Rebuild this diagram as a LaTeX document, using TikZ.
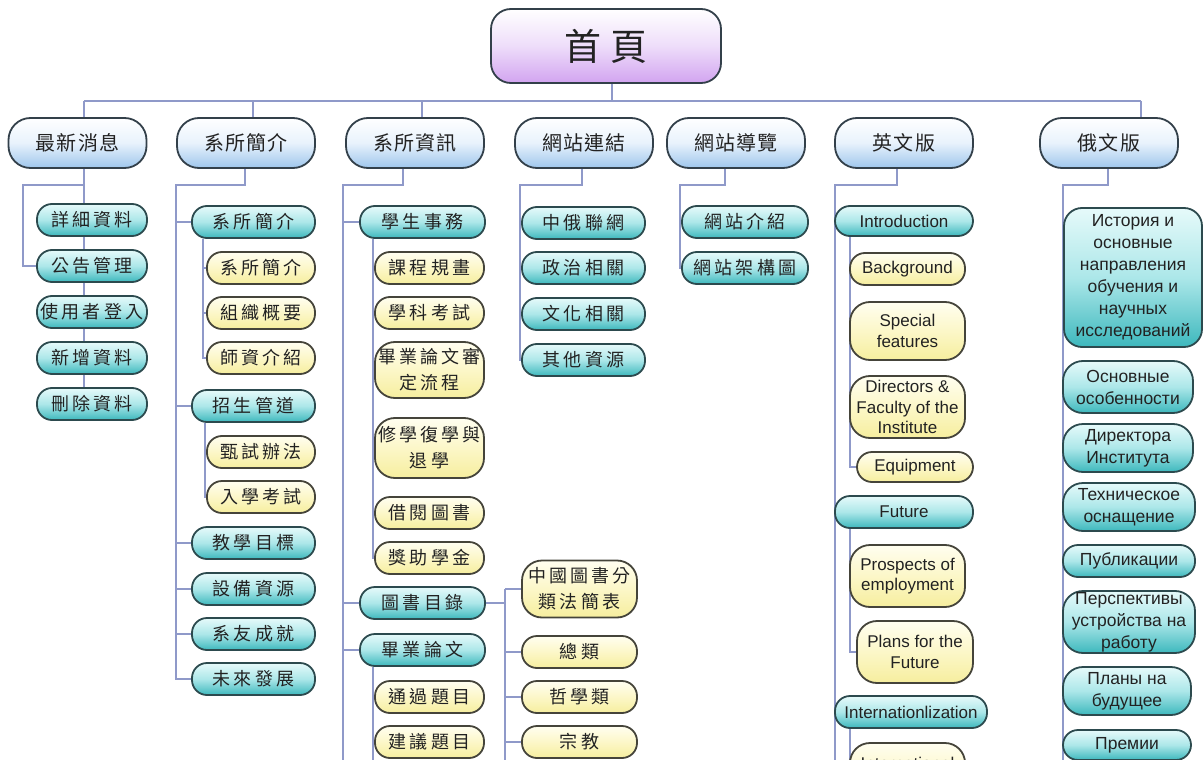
\documentclass[tikz,border=0pt]{standalone}
\usepackage{fontspec}
\setmainfont{Liberation Sans}
\newfontfamily\cjkroot[LetterSpace=25]{Noto Sans CJK TC}
\newfontfamily\cjkhead[LetterSpace=6]{Noto Sans CJK TC}
\newfontfamily\cjkbody[LetterSpace=18]{Noto Sans CJK TC}
\usetikzlibrary{backgrounds}
\definecolor{linec}{HTML}{8F99C9}
\definecolor{bordc}{HTML}{33404A}
\definecolor{tealbord}{HTML}{2C4A4E}
\definecolor{yelbord}{HTML}{45443A}
\definecolor{textc}{HTML}{222222}
\definecolor{rootmid}{HTML}{EEDDFA}
\definecolor{rootbot}{HTML}{D2A4F0}
\definecolor{headmid}{HTML}{E8F2FC}
\definecolor{headbot}{HTML}{9EC6EC}
\definecolor{tealtop}{HTML}{E6FAFA}
\definecolor{tealmid}{HTML}{ACE7E9}
\definecolor{tealbot}{HTML}{3DB8BD}
\definecolor{yeltop}{HTML}{FFFEF0}
\definecolor{yelmid}{HTML}{FCF7C8}
\definecolor{yelbot}{HTML}{F6EE9E}
\tikzset{
  conn/.style={draw=linec, line width=1.3pt},
  box/.style={rectangle, rounded corners=15pt, line width=1.8pt, align=center, inner sep=0pt, text=textc},
  rootbox/.style={box, draw=bordc, top color=white, bottom color=rootbot, middle color=rootmid,
    minimum width=230pt, minimum height=74pt, rounded corners=20pt,
    font=\cjkroot\fontsize{37pt}{40pt}\selectfont},
  headbox/.style={box, draw=bordc, top color=white, bottom color=headbot, middle color=headmid,
    minimum width=138pt, minimum height=50pt, rounded corners=22pt,
    font=\cjkhead\fontsize{20pt}{22pt}\selectfont},
  tbox/.style={box, draw=tealbord, top color=tealtop, bottom color=tealbot, middle color=tealmid, minimum height=32pt},
  ybox/.style={box, draw=yelbord, top color=yeltop, bottom color=yelbot, middle color=yelmid, minimum height=32pt},
  zh/.style={font=\cjkbody\fontsize{18pt}{26pt}\selectfont},
  en/.style={font=\fontsize{17pt}{20.5pt}\selectfont},
  ru/.style={font=\fontsize{17.5pt}{22pt}\selectfont},
}
\begin{document}
\begin{tikzpicture}[x=1pt,y=-1pt]
\useasboundingbox (0,0) rectangle (1203,760);

% root and heads
\node[rootbox] (root) at (606,46) {首頁};
\node[headbox] (c1) at (77.5,143) {最新消息};
\node[headbox] (c2) at (246,143) {系所簡介};
\node[headbox] (c3) at (415,143) {系所資訊};
\node[headbox] (c4) at (584,143) {網站連結};
\node[headbox] (c5) at (736,143) {網站導覽};
\node[headbox] (c6) at (904,143) {英文版};
\node[headbox] (c7) at (1109,143) {俄文版};

% column 1
\node[tbox,zh,minimum width=110pt] (a1) at (92,220) {詳細資料};
\node[tbox,zh,minimum width=110pt] (a2) at (92,266) {公告管理};
\node[tbox,zh,minimum width=110pt] (a3) at (92,312) {使用者登入};
\node[tbox,zh,minimum width=110pt] (a4) at (92,358) {新增資料};
\node[tbox,zh,minimum width=110pt] (a5) at (92,404) {刪除資料};

% column 2
\node[tbox,zh,minimum width=123pt] (b1) at (253.5,222) {系所簡介};
\node[ybox,zh,minimum width=108pt] (b11) at (261,268) {系所簡介};
\node[ybox,zh,minimum width=108pt] (b12) at (261,313) {組織概要};
\node[ybox,zh,minimum width=108pt] (b13) at (261,358) {師資介紹};
\node[tbox,zh,minimum width=123pt] (b2) at (253.5,406) {招生管道};
\node[ybox,zh,minimum width=108pt] (b21) at (261,452) {甄試辦法};
\node[ybox,zh,minimum width=108pt] (b22) at (261,497) {入學考試};
\node[tbox,zh,minimum width=123pt] (b3) at (253.5,543) {教學目標};
\node[tbox,zh,minimum width=123pt] (b4) at (253.5,589) {設備資源};
\node[tbox,zh,minimum width=123pt] (b5) at (253.5,634) {系友成就};
\node[tbox,zh,minimum width=123pt] (b6) at (253.5,679) {未來發展};

% column 3
\node[tbox,zh,minimum width=125pt] (d1) at (422.5,222) {學生事務};
\node[ybox,zh,minimum width=109pt] (d11) at (429.5,268) {課程規畫};
\node[ybox,zh,minimum width=109pt] (d12) at (429.5,313) {學科考試};
\node[ybox,zh,minimum width=109pt,minimum height=56pt,rounded corners=20pt] (d13) at (429.5,370) {畢業論文審\\定流程};
\node[ybox,zh,minimum width=109pt,minimum height=60pt,rounded corners=20pt] (d14) at (429.5,448) {修學復學與\\退學};
\node[ybox,zh,minimum width=109pt] (d15) at (429.5,513) {借閱圖書};
\node[ybox,zh,minimum width=109pt] (d16) at (429.5,558) {獎助學金};
\node[tbox,zh,minimum width=125pt] (d2) at (422.5,603) {圖書目錄};
\node[tbox,zh,minimum width=125pt] (d3) at (422.5,650) {畢業論文};
\node[ybox,zh,minimum width=109pt] (d31) at (429.5,697) {通過題目};
\node[ybox,zh,minimum width=109pt] (d32) at (429.5,742) {建議題目};
\node[ybox,zh,minimum width=115pt,minimum height=57pt,rounded corners=20pt] (e1) at (579.5,589) {中國圖書分\\類法簡表};
\node[ybox,zh,minimum width=115pt] (e2) at (579.5,652) {總類};
\node[ybox,zh,minimum width=115pt] (e3) at (579.5,697) {哲學類};
\node[ybox,zh,minimum width=115pt] (e4) at (579.5,742) {宗教};

% column 4
\node[tbox,zh,minimum width=123pt] (f1) at (583.5,223) {中俄聯網};
\node[tbox,zh,minimum width=123pt] (f2) at (583.5,268) {政治相關};
\node[tbox,zh,minimum width=123pt] (f3) at (583.5,314) {文化相關};
\node[tbox,zh,minimum width=123pt] (f4) at (583.5,360) {其他資源};

% column 5
\node[tbox,zh,minimum width=126pt] (g1) at (745,222) {網站介紹};
\node[tbox,zh,minimum width=126pt] (g2) at (745,268) {網站架構圖};

% column 6
\node[tbox,en,minimum width=138pt,minimum height=30pt] (h1) at (904,221) {Introduction};
\node[ybox,en,minimum width=115pt] (h11) at (907.5,269) {Background};
\node[ybox,en,minimum width=115pt,minimum height=58pt,rounded corners=20pt] (h12) at (907.5,331) {Special\\features};
\node[ybox,en,minimum width=115pt,minimum height=62pt,rounded corners=20pt] (h13) at (907.5,407) {Directors \&\\Faculty of the\\Institute};
\node[ybox,en,minimum width=116pt,minimum height=30pt] (h14) at (915,467) {Equipment};
\node[tbox,en,minimum width=138pt] (h2) at (904,512) {Future};
\node[ybox,en,minimum width=115pt,minimum height=62pt,rounded corners=20pt] (h21) at (907.5,576) {Prospects of\\employment};
\node[ybox,en,minimum width=116pt,minimum height=62pt,rounded corners=20pt] (h22) at (915,652) {Plans for the\\Future};
\node[tbox,en,minimum width=152pt] (h3) at (911,712) {Internationlization};
\node[ybox,en,minimum width=115pt,minimum height=62pt,rounded corners=20pt] (h31) at (907.5,774) {International\\\phantom{International}};

% column 7
\node[tbox,ru,minimum width=138pt,minimum height=139pt,rounded corners=18pt] (i1) at (1133,277.5) {История и\\основные\\направления\\обучения и\\научных\\исследований};
\node[tbox,ru,minimum width=130pt,minimum height=52pt,rounded corners=20pt] (i2) at (1128,387) {Основные\\особенности};
\node[tbox,ru,minimum width=130pt,minimum height=48pt,rounded corners=20pt] (i3) at (1128,448) {Директора\\Института};
\node[tbox,ru,minimum width=132pt,minimum height=48pt,rounded corners=20pt] (i4) at (1129,507) {Техническое\\оснащение};
\node[tbox,ru,minimum width=132pt] (i5) at (1129,561) {Публикации};
\node[tbox,ru,minimum width=132pt,minimum height=62pt,rounded corners=20pt] (i6) at (1129,622) {Перспективы\\устройства на\\работу};
\node[tbox,ru,minimum width=128pt,minimum height=48pt,rounded corners=20pt] (i7) at (1127,691) {Планы на\\будущее};
\node[tbox,ru,minimum width=128pt,minimum height=30pt] (i8) at (1127,745) {Премии};

% coordinates
\coordinate (busL) at (84,101);
\coordinate (busR) at (1141,101);
\coordinate (busM) at (612,101);
\coordinate (bus3) at (422,101);
\coordinate (bus2) at (253,101);
\coordinate (k1) at (84,185);   \coordinate (v1) at (23,185);
\coordinate (k2) at (245,185);  \coordinate (v2) at (176,185);
\coordinate (k3) at (403,185);  \coordinate (v3) at (343,185);
\coordinate (k4) at (582,185);  \coordinate (v4) at (520,185);
\coordinate (k5) at (725,185);  \coordinate (v5) at (680,185);
\coordinate (k6) at (897,185);  \coordinate (v6) at (835,185);
\coordinate (k7) at (1108,185); \coordinate (v7) at (1063,185);
\coordinate (w21) at (203,0);
\coordinate (w22) at (205,0);
\coordinate (w31) at (373,0);
\coordinate (w32) at (505,0);
\coordinate (w61) at (850,0);
\coordinate (bot3) at (343,760);
\coordinate (bot31) at (373,760);
\coordinate (bot32) at (505,760);
\coordinate (bot6) at (835,760);
\coordinate (bot61) at (850,760);
\coordinate (bot7) at (1063,760);

\begin{pgfonlayer}{background}
\fill[white] (0,0) rectangle (1203,760);
% bus
\draw[conn] (busL) -- (busR);
\draw[conn] (root.south -| busM) -- (busM);
\draw[conn] (busL) -- (c1.north -| busL);
\draw[conn] (bus2) -- (c2.north -| bus2);
\draw[conn] (bus3) -- (c3.north -| bus3);
\draw[conn] (busR) -- (c7.north -| busR);
% column 1
\draw[conn] (c1.south -| k1) -- (a5.center -| k1);
\draw[conn] (k1) -- (v1) -- (v1 |- a2.west) -- (a2.west);
% column 2
\draw[conn] (c2.south -| k2) -- (k2) -- (v2) -- (v2 |- b6.west) -- (b6.west);
\foreach \n in {b1,b2,b3,b4,b5} \draw[conn] (v2 |- \n.west) -- (\n.west);
\draw[conn] (b1.south -| w21) -- (w21 |- b13.west) -- (b13.west);
\foreach \n in {b11,b12} \draw[conn] (w21 |- \n.west) -- (\n.west);
\draw[conn] (b2.south -| w22) -- (w22 |- b22.west) -- (b22.west);
\draw[conn] (w22 |- b21.west) -- (b21.west);
% column 3
\draw[conn] (c3.south -| k3) -- (k3) -- (v3) -- (bot3);
\foreach \n in {d1,d2,d3} \draw[conn] (v3 |- \n.west) -- (\n.west);
\draw[conn] (d1.south -| w31) -- (w31 |- d16.west) -- (d16.west);
\foreach \n in {d11,d12,d13,d14,d15} \draw[conn] (w31 |- \n.west) -- (\n.west);
\draw[conn] (d3.south -| w31) -- (bot31);
\foreach \n in {d31,d32} \draw[conn] (w31 |- \n.west) -- (\n.west);
\draw[conn] (d2.east) -- (w32 |- d2.east);
\draw[conn] (w32 |- e1.west) -- (bot32);
\foreach \n in {e1,e2,e3,e4} \draw[conn] (w32 |- \n.west) -- (\n.west);
% column 4
\draw[conn] (c4.south -| k4) -- (k4) -- (v4) -- (v4 |- f4.west) -- (f4.west);
\foreach \n in {f1,f2,f3} \draw[conn] (v4 |- \n.west) -- (\n.west);
% column 5
\draw[conn] (c5.south -| k5) -- (k5) -- (v5) -- (v5 |- g2.west) -- (g2.west);
\draw[conn] (v5 |- g1.west) -- (g1.west);
% column 6
\draw[conn] (c6.south -| k6) -- (k6) -- (v6) -- (bot6);
\draw[conn] (h1.south -| w61) -- (w61 |- h14.west) -- (h14.west);
\draw[conn] (h2.south -| w61) -- (w61 |- h22.west) -- (h22.west);
\draw[conn] (h3.south -| w61) -- (bot61);
% column 7
\draw[conn] (c7.south -| k7) -- (k7) -- (v7) -- (bot7);
\end{pgfonlayer}
\end{tikzpicture}
\end{document}
